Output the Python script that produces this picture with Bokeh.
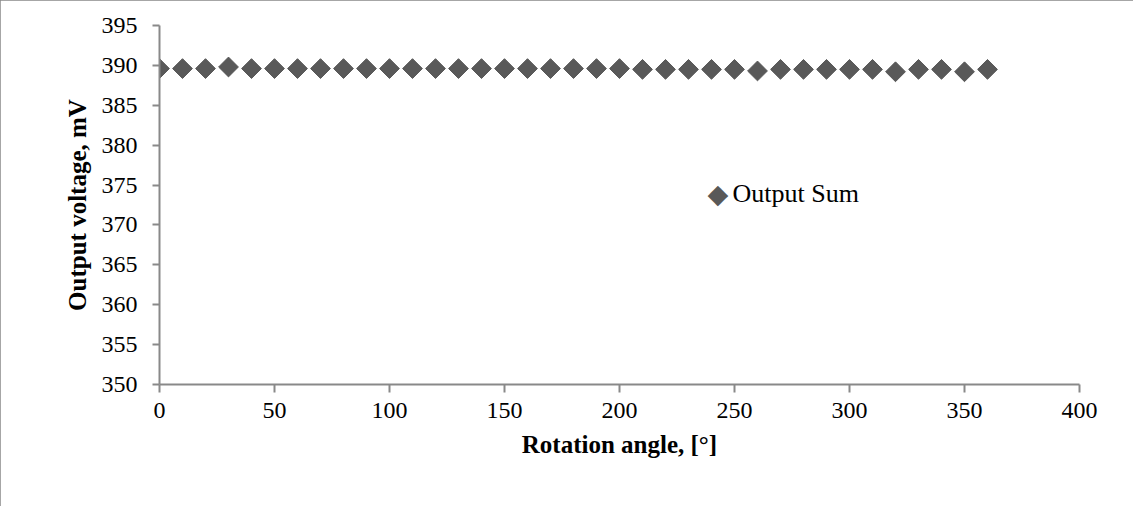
import math
from bokeh.plotting import figure
from bokeh.models import ColumnDataSource, Range1d, FixedTicker, Label
from bokeh.embed import file_html
from bokeh.resources import INLINE

# Rotation angle in degrees and the summed output voltage in mV
angle_deg = [0, 10, 20, 30, 40, 50, 60, 70, 80, 90, 100, 110, 120, 130, 140, 150, 160, 170, 180,
             190, 200, 210, 220, 230, 240, 250, 260, 270, 280, 290, 300, 310, 320, 330, 340, 350, 360]
output_sum = [389.6, 389.6, 389.6, 389.8, 389.6, 389.6, 389.6, 389.6, 389.6, 389.6, 389.6, 389.6,
              389.6, 389.6, 389.6, 389.6, 389.6, 389.6, 389.6, 389.6, 389.6, 389.5, 389.5, 389.5,
              389.5, 389.5, 389.3, 389.5, 389.5, 389.5, 389.5, 389.5, 389.2, 389.5, 389.5, 389.2, 389.5]

x_ticks = [0, 50, 100, 150, 200, 250, 300, 350, 400]
y_ticks = [350, 355, 360, 365, 370, 375, 380, 385, 390, 395]
series_name = "Output Sum"

FONT = "Liberation Serif"
AXIS_GRAY = "#898989"
MARK = "#595959"

src = ColumnDataSource(dict(x=angle_deg, y=output_sum))

p = figure(width=1133, height=506, output_backend="svg", toolbar_location=None,
           x_range=Range1d(0, 400), y_range=Range1d(350, 395),
           min_border_left=159, min_border_right=54, min_border_top=25, min_border_bottom=122)
p.outline_line_color = None
p.xgrid.visible = False
p.ygrid.visible = False
p.background_fill_color = "white"
p.border_fill_color = "white"
# thin grey frame around the whole chart
p.styles = {"outline": f"2px solid {AXIS_GRAY}", "outline-offset": "-2px"}

# diamond markers: squares turned by 45 degrees
p.scatter("x", "y", source=src, marker="square", angle=math.pi / 4, size=14,
          fill_color=MARK, line_color=MARK)

for ax, ticks in ((p.xaxis[0], x_ticks), (p.yaxis[0], y_ticks)):
    ax.ticker = FixedTicker(ticks=ticks)
    ax.axis_line_color = AXIS_GRAY
    ax.axis_line_width = 2
    ax.major_tick_line_color = AXIS_GRAY
    ax.major_tick_line_width = 2
    ax.major_tick_in = 0
    ax.minor_tick_line_color = None
    ax.major_label_text_font = FONT
    ax.major_label_text_font_size = "24px"
    ax.major_label_text_color = "black"
    ax.axis_label_text_font = FONT
    ax.axis_label_text_font_size = "25px"
    ax.axis_label_text_font_style = "bold"
    ax.axis_label_text_color = "black"

p.xaxis.axis_label = "Rotation angle, [°]"
p.xaxis.major_tick_out = 8
p.xaxis.major_label_standoff = 10
p.xaxis.axis_label_standoff = 10

p.yaxis.axis_label = "Output voltage, mV"
p.yaxis.major_tick_out = 7
p.yaxis.major_label_standoff = 15
p.yaxis.axis_label_standoff = 8

# series key (screen offsets measured from the plot frame's lower-left corner)
p.add_layout(Label(x=548, y=191, x_units="screen", y_units="screen", text="◆",
                   text_font="DejaVu Sans", text_font_size="27px", text_color=MARK,
                   text_baseline="middle", text_align="left"))
p.add_layout(Label(x=573, y=191, x_units="screen", y_units="screen", text=series_name,
                   text_font=FONT, text_font_size="26px", text_color="black",
                   text_baseline="middle", text_align="left"))

open("out.html", "w").write(file_html(p, INLINE))
